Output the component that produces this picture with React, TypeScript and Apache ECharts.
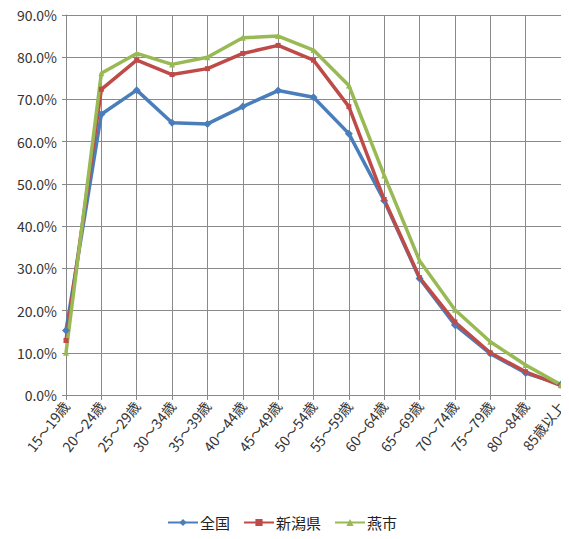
import React, { useEffect, useRef } from "react";
import * as echarts from "echarts";

const categories = [
  "15～19歳", "20～24歳", "25～29歳", "30～34歳", "35～39歳", "40～44歳", "45～49歳",
  "50～54歳", "55～59歳", "60～64歳", "65～69歳", "70～74歳", "75～79歳", "80～84歳", "85歳以上",
];
const zenkoku = [15.3, 66.5, 72.2, 64.5, 64.2, 68.3, 72.1, 70.5, 61.9, 46.0, 27.6, 16.6, 9.8, 5.2, 2.5];
const niigata = [12.9, 72.4, 79.3, 75.9, 77.3, 80.9, 82.8, 79.3, 68.3, 46.3, 27.8, 17.3, 10.0, 5.5, 2.2];
const tsubame = [10.0, 76.2, 80.9, 78.3, 80.0, 84.6, 85.0, 81.7, 73.3, 52.0, 31.8, 20.2, 12.6, 7.1, 2.4];
const seriesNames = ["全国", "新潟県", "燕市"];
const yTicks = { min: 0, max: 90, interval: 10 };

const FONT = "'Noto Sans CJK JP', 'Noto Sans', sans-serif";

export default function App() {
  const ref = useRef<HTMLDivElement>(null);
  useEffect(() => {
    if (!ref.current) return;
    const chart = echarts.init(ref.current, undefined, { renderer: "svg" });
    const mk = (name: string, data: number[], color: string, symbol: string, size: number) => ({
      name,
      type: "line",
      data,
      symbol,
      symbolSize: size,
      showSymbol: true,
      lineStyle: { color, width: 3.5 },
      itemStyle: { color },
      emphasis: { disabled: true },
    });
    chart.setOption({
      animation: false,
      backgroundColor: "#ffffff",
      textStyle: { fontFamily: FONT },
      grid: { left: 66, right: 8, top: 15, bottom: 144, containLabel: false },
      legend: {
        bottom: 4,
        left: 162,
        itemWidth: 30,
        itemHeight: 9,
        itemGap: 13,
        textStyle: { fontFamily: FONT, fontSize: 15, color: "#222", padding: [0, 0, 0, -3] },
        data: seriesNames,
      },
      xAxis: {
        type: "category",
        data: categories,
        boundaryGap: false,
        axisLine: { show: true, lineStyle: { color: "#888", width: 1 } },
        axisTick: { show: true, length: 5, lineStyle: { color: "#888" } },
        splitLine: { show: true, lineStyle: { color: "#8a8a8a", width: 1 } },
        axisLabel: {
          rotate: 52,
          fontSize: 14,
          color: "#333",
          fontFamily: FONT,
          margin: 8,
          interval: 0,
        },
      },
      yAxis: {
        type: "value",
        min: yTicks.min,
        max: yTicks.max,
        interval: yTicks.interval,
        axisLine: { show: true, lineStyle: { color: "#888" } },
        axisTick: { show: true, length: 4, lineStyle: { color: "#888" } },
        splitLine: { show: true, lineStyle: { color: "#8a8a8a", width: 1 } },
        axisLabel: {
          fontSize: 14,
          color: "#333",
          fontFamily: FONT,
          margin: 9,
          formatter: (v: number) => `${v.toFixed(1)}%`,
        },
      },
      series: [
        mk(seriesNames[0], zenkoku, "#4A7EBB", "diamond", 8),
        mk(seriesNames[1], niigata, "#BE4B48", "rect", 5),
        mk(seriesNames[2], tsubame, "#98B954", "triangle", 6),
      ],
    });
    return () => chart.dispose();
  }, []);
  return <div ref={ref} style={{ width: 569, height: 539, margin: -8 }} />;
}
